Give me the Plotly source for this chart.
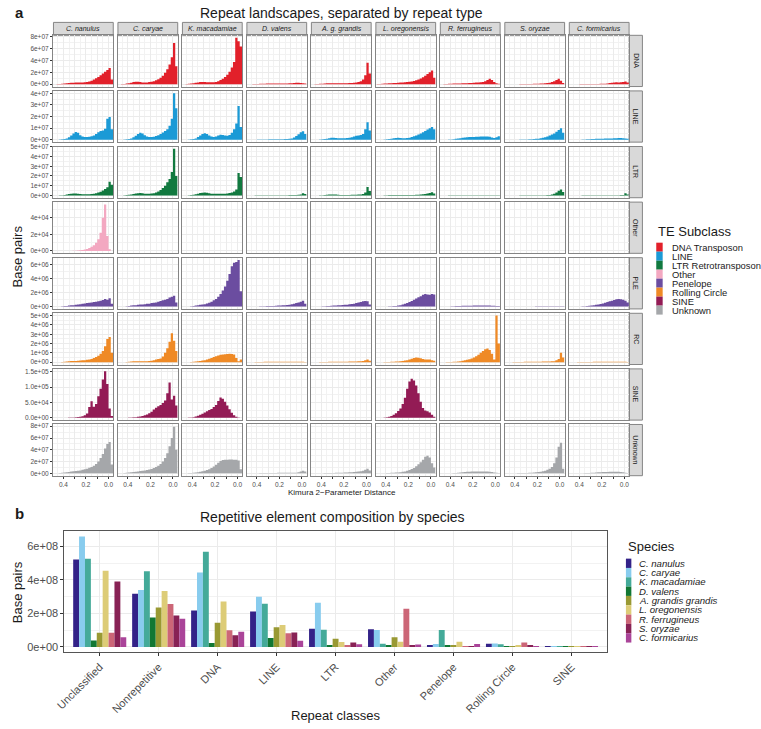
import plotly.graph_objects as go

W, H = 761, 729
FONT = "Liberation Sans, Arial, Helvetica, sans-serif"

# ---------------- data ----------------
SPECIES = ["C. nanulus", "C. caryae", "K. macadamiae", "D. valens", "A. g. grandis",
           "L. oregonensis", "R. ferrugineus", "S. oryzae", "C. formicarius"]
SPECIES_LEGEND = ["C. nanulus", "C. caryae", "K. macadamiae", "D. valens", "A. grandis grandis",
                  "L. oregonensis", "R. ferrugineus", "S. oryzae", "C. formicarius"]
SPECIES_COLORS = ["#332288", "#88CCEE", "#44AA99", "#117733", "#999933",
                  "#DDCC77", "#CC6677", "#882255", "#AA4499"]

REPEAT_TYPES = ["DNA", "LINE", "LTR", "Other", "PLE", "RC", "SINE", "Unknown"]
TE_SUBCLASS = ["DNA Transposon", "LINE", "LTR Retrotransposon", "Other", "Penelope",
               "Rolling Circle", "SINE", "Unknown"]
TE_COLORS = ["#E2202A", "#1B9AD6", "#11793F", "#F3A8C1", "#6B4DA0", "#EF8A26", "#931B55", "#A5A7AA"]

# Kimura distance bin centres (left to right on the reversed axis)
BIN_CENTERS = [0.47, 0.45, 0.43, 0.41, 0.39, 0.37, 0.35, 0.33, 0.31, 0.29, 0.27, 0.25, 0.23,
               0.21, 0.19, 0.17, 0.15, 0.13, 0.11, 0.09, 0.07, 0.05, 0.03, 0.01, -0.01, -0.03]
BIN_WIDTH = 0.02

# landscape values (bp, in units given by ROW_UNIT)
DNA_LAND = {
    "C. nanulus": [0, 0.3, 0.5, 0.8, 1.0, 1.6, 2.2, 2.5, 2.6, 2.8, 3.0, 3.0, 3.0, 3.2, 3.5, 4.5, 6, 8, 10, 12, 15, 18, 21, 24, 27, 8],
    "C. caryae": [0, 0.3, 0.5, 1, 1.5, 2.5, 3.5, 4, 4, 3.5, 3, 3, 3, 3.5, 4, 5, 6.5, 8.5, 11, 14, 19, 25, 33, 45, 69, 30],
    "K. macadamiae": [0, 0.3, 0.6, 1, 1.6, 2.3, 3, 3.5, 3.6, 3.5, 3.3, 3.2, 3.2, 3.4, 3.8, 5, 7, 9, 12, 16, 21, 28, 37, 78, 72, 63],
    "D. valens": [0, 0, 0.2, 0.3, 0.5, 0.7, 0.8, 0.9, 1, 1, 1, 1, 1, 1, 1, 1, 1.1, 1.2, 1.4, 1.6, 2, 2.4, 2.5, 2.2, 1.5, 1],
    "A. g. grandis": [0, 0.2, 0.4, 0.6, 0.9, 1.2, 1.4, 1.5, 1.6, 1.6, 1.6, 1.6, 1.6, 1.6, 1.7, 1.8, 2, 2.2, 2.5, 3, 3.5, 5, 8, 15, 36, 18],
    "L. oregonensis": [0.2, 0.5, 0.8, 1, 1.3, 1.6, 1.8, 2, 2.2, 2.5, 2.7, 3, 3.3, 3.6, 4, 4.6, 5.5, 6.5, 8, 9.5, 11.5, 14, 17, 20, 23, 11],
    "R. ferrugineus": [0.1, 0.3, 0.5, 0.7, 0.9, 1, 1.1, 1.2, 1.3, 1.5, 1.6, 1.8, 2, 2.2, 2.4, 2.7, 3, 3.3, 3.8, 4.8, 7, 9, 7, 3.5, 1.5, 0.8],
    "S. oryzae": [0, 0, 0, 0, 0.1, 0.1, 0.2, 0.2, 0.3, 0.3, 0.4, 0.5, 0.6, 0.7, 0.8, 1, 1.2, 1.5, 2, 2.6, 3.5, 5, 7, 9, 6, 2],
    "C. formicarius": [0, 0, 0.1, 0.1, 0.2, 0.2, 0.3, 0.3, 0.3, 0.4, 0.4, 0.5, 0.5, 0.6, 0.7, 0.9, 1.2, 2, 2.6, 3, 3.2, 2.8, 3.3, 3.5, 4.5, 3],
}
LINE_LAND = {
    "C. nanulus": [0, 0.1, 0.2, 0.4, 0.7, 1.2, 2.2, 3.8, 5.5, 6.6, 6, 4, 2.8, 2.4, 2.4, 2.6, 3, 3.8, 5, 6.5, 7.5, 8, 9.5, 18, 19.5, 9],
    "C. caryae": [0, 0.1, 0.2, 0.4, 0.7, 1.2, 2.2, 3.5, 5, 6, 5.5, 4, 2.8, 2.4, 2.4, 2.7, 3.2, 4, 5, 6.2, 7.5, 9, 12, 18, 40, 27],
    "K. macadamiae": [0, 0.1, 0.2, 0.4, 0.7, 1.2, 2.3, 3.8, 5, 5.7, 5, 3.8, 2.8, 2.4, 2.8, 3.6, 4.3, 4.2, 3.6, 3.5, 4.2, 6, 9, 14, 29, 11],
    "D. valens": [0, 0, 0.1, 0.1, 0.2, 0.2, 0.3, 0.3, 0.3, 0.4, 0.4, 0.4, 0.4, 0.5, 0.5, 0.5, 0.6, 0.7, 0.9, 1.2, 2, 3.2, 4.8, 6.5, 7.4, 5],
    "A. g. grandis": [0, 0, 0.1, 0.2, 0.4, 0.7, 1, 1.4, 1.7, 1.8, 1.6, 1.4, 1.3, 1.3, 1.3, 1.5, 1.8, 2.2, 2.8, 3.4, 3.8, 4.2, 5, 9, 15, 8],
    "L. oregonensis": [0, 0, 0.1, 0.2, 0.4, 0.7, 1, 1.3, 1.6, 1.7, 1.6, 1.4, 1.4, 1.5, 1.8, 2.3, 3, 3.8, 4.6, 5.5, 6.5, 7.6, 8.8, 10, 11, 9],
    "R. ferrugineus": [0, 0, 0.1, 0.2, 0.3, 0.5, 0.8, 1.1, 1.4, 1.7, 2, 2.2, 2.3, 2.4, 2.5, 2.6, 2.7, 2.8, 2.8, 2.9, 2.9, 2.6, 2, 1.6, 2.2, 3],
    "S. oryzae": [0, 0, 0, 0, 0.1, 0.1, 0.2, 0.2, 0.3, 0.3, 0.4, 0.5, 0.6, 0.8, 1, 1.3, 1.7, 2.2, 2.8, 3.6, 4.5, 5.5, 7, 8.5, 10, 6],
    "C. formicarius": [0, 0, 0, 0.1, 0.1, 0.2, 0.3, 0.4, 0.5, 0.6, 0.7, 0.8, 0.9, 1, 1, 1.1, 1.1, 1.2, 1.2, 1.3, 1.4, 1.5, 1.5, 1.4, 1.2, 0.8],
}
LTR_LAND = {
    "C. nanulus": [0, 0, 0.1, 0.2, 0.5, 0.9, 1.4, 1.8, 2, 2, 1.7, 1.4, 1.2, 1.2, 1.2, 1.3, 1.5, 1.8, 2.3, 2.9, 3.8, 5, 6.5, 8.5, 14, 11],
    "C. caryae": [0, 0, 0.1, 0.3, 0.6, 1, 1.5, 2, 2.3, 2.4, 2.1, 1.8, 1.7, 1.7, 1.9, 2.3, 3, 4, 5.5, 7.5, 10, 13.5, 17, 24, 48, 20],
    "K. macadamiae": [0, 0, 0.1, 0.3, 0.7, 1.2, 1.8, 2.4, 2.8, 3, 2.7, 2.2, 1.8, 1.6, 1.6, 1.6, 1.6, 1.7, 1.8, 2, 2.4, 3, 4, 6, 23, 19],
    "D. valens": [0, 0, 0, 0.05, 0.1, 0.1, 0.15, 0.2, 0.2, 0.2, 0.2, 0.2, 0.2, 0.2, 0.2, 0.2, 0.2, 0.25, 0.3, 0.35, 0.4, 0.5, 0.7, 1, 2.3, 1.5],
    "A. g. grandis": [0, 0, 0, 0.1, 0.2, 0.4, 0.6, 0.8, 0.9, 0.9, 0.8, 0.6, 0.5, 0.5, 0.5, 0.5, 0.5, 0.6, 0.6, 0.7, 0.8, 1, 1.5, 3, 8.7, 4.5],
    "L. oregonensis": [0, 0, 0, 0.1, 0.2, 0.3, 0.4, 0.5, 0.5, 0.5, 0.4, 0.4, 0.4, 0.4, 0.4, 0.4, 0.5, 0.6, 0.7, 0.9, 1.1, 1.4, 1.9, 2.6, 3.3, 2],
    "R. ferrugineus": [0, 0, 0, 0.05, 0.08, 0.1, 0.12, 0.14, 0.15, 0.15, 0.15, 0.15, 0.15, 0.15, 0.15, 0.15, 0.15, 0.15, 0.15, 0.15, 0.15, 0.15, 0.15, 0.15, 0.2, 0.15],
    "S. oryzae": [0, 0, 0, 0, 0, 0.02, 0.03, 0.04, 0.05, 0.05, 0.06, 0.07, 0.08, 0.1, 0.12, 0.15, 0.18, 0.22, 0.3, 0.5, 1, 1.8, 3, 4.8, 6, 3.5],
    "C. formicarius": [0, 0, 0, 0, 0.02, 0.03, 0.04, 0.05, 0.06, 0.07, 0.08, 0.09, 0.1, 0.1, 0.1, 0.1, 0.1, 0.1, 0.1, 0.12, 0.15, 0.2, 0.3, 0.5, 2.3, 1],
}
OTHER_LAND = {
    "C. nanulus": [0, 0, 0, 0, 0, 0, 0.1, 0.1, 0.2, 0.3, 0.5, 0.8, 1.2, 1.8, 2.5, 3.5, 5, 7, 10, 14, 22, 40, 56, 18, 2, 0],
}
PLE_LAND = {
    "C. nanulus": [0, 0, 0, 0.05, 0.1, 0.1, 0.15, 0.2, 0.2, 0.25, 0.3, 0.35, 0.4, 0.45, 0.5, 0.55, 0.6, 0.65, 0.7, 0.75, 0.85, 0.95, 1.1, 1.0, 1.2, 0.4],
    "C. caryae": [0, 0, 0, 0.05, 0.1, 0.15, 0.2, 0.2, 0.25, 0.3, 0.3, 0.35, 0.4, 0.4, 0.5, 0.55, 0.6, 0.7, 0.8, 0.9, 1, 1.1, 1.3, 1.4, 1.55, 0.6],
    "K. macadamiae": [0, 0, 0, 0.05, 0.1, 0.15, 0.2, 0.25, 0.3, 0.35, 0.45, 0.55, 0.7, 0.9, 1.1, 1.4, 1.8, 2.3, 2.9, 3.7, 4.7, 5.8, 6.3, 6.4, 6.7, 2.2],
    "D. valens": [0, 0, 0, 0, 0.02, 0.04, 0.05, 0.06, 0.07, 0.08, 0.09, 0.1, 0.12, 0.14, 0.16, 0.18, 0.2, 0.23, 0.27, 0.32, 0.4, 0.5, 0.6, 0.7, 0.85, 0.4],
    "A. g. grandis": [0, 0, 0, 0.02, 0.04, 0.06, 0.08, 0.1, 0.12, 0.14, 0.16, 0.18, 0.2, 0.22, 0.25, 0.28, 0.32, 0.36, 0.42, 0.5, 0.58, 0.66, 0.75, 0.8, 0.75, 0.3],
    "L. oregonensis": [0, 0, 0, 0, 0.02, 0.03, 0.05, 0.07, 0.1, 0.15, 0.2, 0.3, 0.4, 0.5, 0.65, 0.8, 1, 1.15, 1.35, 1.5, 1.7, 1.8, 1.75, 1.7, 1.8, 1.75],
    "R. ferrugineus": [0, 0, 0, 0.02, 0.04, 0.06, 0.08, 0.1, 0.1, 0.11, 0.12, 0.12, 0.13, 0.13, 0.14, 0.14, 0.14, 0.15, 0.15, 0.15, 0.15, 0.14, 0.13, 0.12, 0.1, 0.08],
    "S. oryzae": [0, 0, 0, 0, 0, 0, 0.01, 0.01, 0.01, 0.02, 0.02, 0.02, 0.02, 0.03, 0.03, 0.03, 0.03, 0.03, 0.04, 0.04, 0.04, 0.05, 0.05, 0.05, 0.05, 0.03],
    "C. formicarius": [0, 0, 0, 0, 0.02, 0.04, 0.06, 0.09, 0.12, 0.16, 0.2, 0.25, 0.3, 0.38, 0.46, 0.55, 0.65, 0.75, 0.85, 0.95, 1.05, 1.1, 1.05, 1.0, 0.85, 0.6],
}
RC_LAND = {
    "C. nanulus": [0, 0, 0, 0.02, 0.05, 0.08, 0.1, 0.12, 0.13, 0.14, 0.15, 0.17, 0.2, 0.22, 0.25, 0.3, 0.35, 0.45, 0.55, 0.7, 0.9, 1.2, 1.7, 2.5, 2.7, 1.0],
    "C. caryae": [0, 0, 0, 0.02, 0.05, 0.07, 0.09, 0.1, 0.1, 0.1, 0.1, 0.1, 0.11, 0.12, 0.15, 0.2, 0.3, 0.35, 0.4, 0.6, 1, 1.5, 2.2, 3.1, 2.3, 1.2],
    "K. macadamiae": [0, 0, 0, 0.02, 0.04, 0.07, 0.1, 0.14, 0.18, 0.22, 0.28, 0.36, 0.45, 0.55, 0.65, 0.72, 0.8, 0.83, 0.86, 0.88, 0.9, 0.88, 0.82, 0.45, 0.1, 0.3],
    "D. valens": [0, 0, 0, 0.01, 0.02, 0.03, 0.03, 0.04, 0.04, 0.04, 0.05, 0.05, 0.05, 0.05, 0.05, 0.05, 0.05, 0.05, 0.05, 0.05, 0.05, 0.05, 0.05, 0.05, 0.05, 0.03],
    "A. g. grandis": [0, 0, 0, 0.01, 0.02, 0.03, 0.03, 0.04, 0.04, 0.04, 0.05, 0.05, 0.05, 0.05, 0.05, 0.05, 0.06, 0.06, 0.07, 0.08, 0.09, 0.1, 0.12, 0.2, 0.3, 0.15],
    "L. oregonensis": [0, 0, 0, 0.01, 0.02, 0.03, 0.04, 0.05, 0.06, 0.08, 0.1, 0.13, 0.17, 0.22, 0.3, 0.38, 0.45, 0.5, 0.48, 0.42, 0.35, 0.3, 0.28, 0.3, 0.22, 0.15],
    "R. ferrugineus": [0, 0, 0.01, 0.02, 0.03, 0.04, 0.05, 0.08, 0.1, 0.15, 0.2, 0.25, 0.32, 0.4, 0.5, 0.65, 0.8, 1.0, 1.2, 1.4, 1.48, 1.3, 0.9, 0.3, 5.0, 2.0],
    "S. oryzae": [0, 0, 0, 0.01, 0.02, 0.03, 0.03, 0.03, 0.04, 0.04, 0.04, 0.04, 0.05, 0.05, 0.05, 0.05, 0.06, 0.06, 0.07, 0.08, 0.09, 0.1, 0.2, 0.35, 1.0, 0.5],
    "C. formicarius": [0, 0, 0, 0.01, 0.02, 0.02, 0.03, 0.03, 0.03, 0.03, 0.04, 0.04, 0.04, 0.04, 0.04, 0.04, 0.04, 0.04, 0.04, 0.04, 0.04, 0.04, 0.04, 0.04, 0.05, 0.03],
}
SINE_LAND = {
    "C. nanulus": [0, 0, 0, 0, 0, 0.2, 0.5, 0.8, 1.2, 1.8, 2.5, 3.5, 5, 8, 14, 35, 54, 36, 45, 70, 95, 125, 152, 110, 30, 6],
    "C. caryae": [0, 0, 0, 0, 0.5, 1, 1.5, 2, 3, 4, 6, 8, 11, 15, 20, 27, 33, 38, 42, 48, 56, 80, 115, 60, 72, 40],
    "K. macadamiae": [0, 0, 0.5, 1, 2, 4, 7, 10, 13, 17, 21, 25, 29, 35, 42, 55, 66, 62, 52, 40, 28, 16, 8, 3, 1, 0.3],
    "L. oregonensis": [0, 0, 0, 0.5, 1.5, 3, 6, 10, 15, 22, 30, 45, 65, 95, 118, 127, 122, 105, 80, 52, 32, 24, 21, 17, 10, 3],
}
UNKNOWN_LAND = {
    "C. nanulus": [0, 0.3, 0.6, 1, 1.5, 2, 2.5, 3, 3.5, 4, 4.5, 5, 6, 7, 8, 9.5, 11, 13, 16, 20, 26, 33, 42, 50, 53, 15],
    "C. caryae": [0, 0.3, 0.6, 1, 1.4, 1.8, 2.3, 2.8, 3.3, 3.8, 4.4, 5, 5.8, 6.6, 7.6, 9, 11, 13, 16, 20, 26, 34, 46, 60, 79, 40],
    "K. macadamiae": [0, 0.2, 0.4, 0.7, 1, 1.5, 2, 2.7, 3.5, 4.5, 5.5, 7, 9, 11.5, 14.5, 18, 21, 22.5, 23, 23, 23.5, 23.5, 23, 23, 22, 7],
    "D. valens": [0, 0, 0.1, 0.2, 0.3, 0.4, 0.5, 0.6, 0.7, 0.7, 0.8, 0.8, 0.8, 0.9, 0.9, 0.9, 1, 1, 1, 1, 1, 1.2, 1.8, 3, 4.5, 3],
    "A. g. grandis": [0, 0, 0.1, 0.2, 0.3, 0.4, 0.5, 0.6, 0.7, 0.8, 0.9, 1, 1.1, 1.2, 1.4, 1.6, 1.8, 2, 2.3, 2.6, 3, 3.5, 4.5, 6, 8, 5],
    "L. oregonensis": [0, 0, 0.2, 0.3, 0.5, 0.7, 0.9, 1.1, 1.3, 1.6, 2, 2.6, 3.3, 4.3, 5.6, 7.2, 9.2, 12, 15.5, 19, 23, 28, 30, 27, 17, 10],
    "R. ferrugineus": [0, 0, 0.1, 0.2, 0.3, 0.5, 0.8, 1.2, 1.6, 2, 2.4, 2.7, 2.9, 3, 3.1, 3.2, 3.3, 3.3, 3.3, 3.2, 3, 2.7, 2.2, 1.6, 1, 0.5],
    "S. oryzae": [0, 0, 0.1, 0.2, 0.3, 0.4, 0.5, 0.6, 0.7, 0.8, 1, 1.2, 1.5, 1.8, 2.2, 2.8, 3.5, 4.5, 6, 8, 11, 17, 27, 45, 52, 8],
    "C. formicarius": [0, 0, 0, 0.1, 0.2, 0.3, 0.4, 0.6, 0.8, 1, 1.2, 1.5, 1.8, 2, 2.2, 2.4, 2.5, 2.6, 2.7, 2.7, 2.7, 2.6, 2.4, 2, 1.2, 0.6],
}
ROW_DATA = [DNA_LAND, LINE_LAND, LTR_LAND, OTHER_LAND, PLE_LAND, RC_LAND, SINE_LAND, UNKNOWN_LAND]
ROW_UNIT = [1e6, 1e6, 1e6, 1e3, 1e6, 1e6, 1e3, 1e6]

ROW_TICKVALS = [
    [0, 2e7, 4e7, 6e7, 8e7],
    [0, 1e7, 2e7, 3e7, 4e7],
    [0, 1e7, 2e7, 3e7, 4e7, 5e7],
    [0, 2e4, 4e4],
    [0, 2e6, 4e6, 6e6],
    [0, 1e6, 2e6, 3e6, 4e6, 5e6],
    [0, 5e4, 1e5, 1.5e5],
    [0, 2e7, 4e7, 6e7, 8e7],
]
ROW_TICKTEXT = [
    ["0e+00", "2e+07", "4e+07", "6e+07", "8e+07"],
    ["0e+00", "1e+07", "2e+07", "3e+07", "4e+07"],
    ["0e+00", "1e+07", "2e+07", "3e+07", "4e+07", "5e+07"],
    ["0e+00", "2e+04", "4e+04"],
    ["0e+00", "2e+06", "4e+06", "6e+06"],
    ["0e+00", "1e+06", "2e+06", "3e+06", "4e+06", "5e+06"],
    ["0.0e+00", "5.0e+04", "1.0e+05", "1.5e+05"],
    ["0e+00", "2e+07", "4e+07", "6e+07", "8e+07"],
]
X_TICKVALS = [0.4, 0.3, 0.2, 0.1, 0.0]
X_TICKTEXT = ["0.4", "", "0.2", "", "0.0"]
X_MINOR = [0.45, 0.35, 0.25, 0.15, 0.05]

# composition (bp x 1e8) per species, across repeat classes
REPEAT_CLASSES = ["Unclassified", "Nonrepetitive", "DNA", "LINE", "LTR", "Other",
                  "Penelope", "Rolling Circle", "SINE"]
COMP_E8 = {
    "C. nanulus": [5.22, 3.17, 2.17, 2.11, 1.08, 1.05, 0.12, 0.19, 0.004],
    "C. caryae": [6.59, 3.40, 4.44, 2.99, 2.64, 1.01, 0.18, 0.21, 0.004],
    "K. macadamiae": [5.26, 4.52, 5.69, 2.58, 1.02, 0.19, 1.01, 0.16, 0.005],
    "D. valens": [0.39, 1.76, 0.23, 0.53, 0.12, 0.12, 0.06, 0.01, 0.002],
    "A. grandis grandis": [0.84, 2.35, 1.45, 1.17, 0.49, 0.57, 0.12, 0.01, 0.003],
    "L. oregonensis": [4.55, 3.34, 2.72, 1.31, 0.29, 0.31, 0.31, 0.06, 0.004],
    "R. ferrugineus": [0.84, 2.56, 1.00, 0.82, 0.08, 2.28, 0.01, 0.27, 0.003],
    "S. oryzae": [3.91, 1.88, 0.70, 0.86, 0.27, 0.08, 0.02, 0.05, 0.003],
    "C. formicarius": [0.57, 1.68, 0.90, 0.37, 0.16, 0.14, 0.17, 0.02, 0.002],
}
COMP_TICKVALS = [0, 2e8, 4e8, 6e8]
COMP_TICKTEXT = ["0e+00", "2e+08", "4e+08", "6e+08"]

# ---------------- geometry (pixels) ----------------
COL_X0, COL_STEP, PANEL_W = 45.0, 65.25, 60.5
ROW_Y0, ROW_STEP, PANEL_H = 32.5, 55.9, 51.5
B_X0, B_X1, B_Y0, B_Y1 = 56.0, 605.0, 531.0, 653.0


def xd(x0, x1):
    return [x0 / W, x1 / W]


def yd(y0, y1):
    return [1 - y1 / H, 1 - y0 / H]


def px(x):
    return x / W


def py(y):
    return 1 - y / H


fig = go.Figure()
layout = dict(
    width=W, height=H, autosize=False,
    margin=dict(l=0, r=0, t=0, b=0, pad=0),
    paper_bgcolor="white", plot_bgcolor="white",
    font=dict(family=FONT, color="#1A1A1A"),
    showlegend=False, barmode="group", bargap=0.1, bargroupgap=0.0,
)
shapes = []
annotations = []

BORDER = "#858585"
GRID = "#EBEBEB"
GRID_MINOR = "#F2F2F2"
TICKCOL = "#4D4D4D"

# histogram step outline: bin edges on the (reversed) distance axis
EDGES = [c + BIN_WIDTH / 2 for c in BIN_CENTERS] + [BIN_CENTERS[-1] - BIN_WIDTH / 2]

idx = 0
for r, rtype in enumerate(REPEAT_TYPES):
    data = ROW_DATA[r]
    unit = ROW_UNIT[r]
    rmax = max(max(v) for v in data.values()) * unit
    yrange = [-0.05 * rmax, 1.05 * rmax]
    tv = ROW_TICKVALS[r]
    minor_tv = [(tv[i] + tv[i + 1]) / 2 for i in range(len(tv) - 1)] + [tv[-1] + (tv[1] - tv[0]) / 2]
    y0 = ROW_Y0 + r * ROW_STEP
    y1 = y0 + PANEL_H
    for c, sp in enumerate(SPECIES):
        idx += 1
        sx = "" if idx == 1 else str(idx)
        x0 = COL_X0 + c * COL_STEP
        x1 = x0 + PANEL_W
        bottom = (r == len(REPEAT_TYPES) - 1)
        layout["xaxis" + sx] = dict(
            domain=xd(x0, x1), anchor="y" + sx, range=[0.488, -0.042],
            tickmode="array", tickvals=X_TICKVALS, ticktext=X_TICKTEXT,
            showticklabels=bottom, ticks="outside" if bottom else "",
            ticklen=2.5, tickwidth=0.8, tickcolor="#333333",
            tickfont=dict(size=6.5, color=TICKCOL, family=FONT),
            showgrid=True, gridcolor=GRID, gridwidth=0.7,
            minor=dict(tickmode="array", tickvals=X_MINOR, showgrid=True,
                       gridcolor=GRID_MINOR, gridwidth=0.5, ticks=""),
            showline=True, mirror=True, linecolor=BORDER, linewidth=1,
            zeroline=False, fixedrange=True,
        )
        layout["yaxis" + sx] = dict(
            domain=yd(y0, y1), anchor="x" + sx, range=yrange,
            tickmode="array", tickvals=tv, ticktext=ROW_TICKTEXT[r],
            showticklabels=(c == 0), ticks="outside" if c == 0 else "",
            ticklen=2.5, tickwidth=0.8, tickcolor="#333333",
            tickfont=dict(size=6.5, color=TICKCOL, family=FONT),
            showgrid=True, gridcolor=GRID, gridwidth=0.7,
            minor=dict(tickmode="array", tickvals=minor_tv, showgrid=True,
                       gridcolor=GRID_MINOR, gridwidth=0.5, ticks=""),
            showline=True, mirror=True, linecolor=BORDER, linewidth=1,
            zeroline=False, fixedrange=True,
        )
        if sp in data:
            vals = [v * unit for v in data[sp]]
            fig.add_trace(go.Scatter(
                x=EDGES, y=vals + [vals[-1]], mode="lines", line=dict(shape="hv", width=0, color=TE_COLORS[r]),
                fill="tozeroy", fillcolor=TE_COLORS[r],
                xaxis="x" + sx, yaxis="y" + sx, showlegend=False, hoverinfo="skip",
            ))
        else:
            # empty panel: register the subplot so its frame and grid are drawn
            fig.add_trace(go.Scatter(x=[], y=[], mode="lines", xaxis="x" + sx, yaxis="y" + sx,
                                     showlegend=False, hoverinfo="skip"))
    # right strip
    sx0 = COL_X0 + 8 * COL_STEP + PANEL_W
    shapes.append(dict(type="rect", xref="paper", yref="paper",
                       x0=px(sx0), x1=px(641.0),
                       y0=py(y1), y1=py(y0), fillcolor="#D9D9D9",
                       line=dict(color=BORDER, width=1), layer="below"))
    annotations.append(dict(x=px((sx0 + 641.0) / 2), y=py((y0 + y1) / 2),
                            xref="paper", yref="paper", text=rtype, showarrow=False, textangle=90,
                            font=dict(size=7, color="#1A1A1A", family=FONT),
                            xanchor="center", yanchor="middle"))

# top strips
for c, sp in enumerate(SPECIES):
    x0 = COL_X0 + c * COL_STEP
    x1 = x0 + PANEL_W
    shapes.append(dict(type="rect", xref="paper", yref="paper", x0=px(x0), x1=px(x1),
                       y0=py(ROW_Y0), y1=py(19.5), fillcolor="#D9D9D9",
                       line=dict(color=BORDER, width=1), layer="below"))
    annotations.append(dict(x=px((x0 + x1) / 2), y=py(26.0), xref="paper", yref="paper",
                            text="<i>" + sp + "</i>", showarrow=False,
                            font=dict(size=7, color="#1A1A1A", family=FONT),
                            xanchor="center", yanchor="middle"))

# ---------------- panel b ----------------
bi = idx + 1
bs = str(bi)
cmax = max(max(v) for v in COMP_E8.values()) * 1e8
for k, sp in enumerate(SPECIES_LEGEND):
    fig.add_trace(go.Bar(
        x=REPEAT_CLASSES, y=[v * 1e8 for v in COMP_E8[sp]], name=sp,
        marker=dict(color=SPECIES_COLORS[k], line=dict(width=0)),
        xaxis="x" + bs, yaxis="y" + bs, showlegend=False, hoverinfo="skip",
    ))
layout["xaxis" + bs] = dict(
    domain=xd(B_X0, B_X1), anchor="y" + bs, type="category",
    categoryorder="array", categoryarray=REPEAT_CLASSES, range=[-0.6, len(REPEAT_CLASSES) - 0.4],
    tickangle=-45, ticks="outside", ticklen=3, tickwidth=0.8, tickcolor="#333333",
    tickfont=dict(size=11, color=TICKCOL, family=FONT),
    showgrid=True, gridcolor=GRID, gridwidth=1,
    showline=True, mirror=True, linecolor="#555555", linewidth=1, zeroline=False, fixedrange=True,
)
layout["yaxis" + bs] = dict(
    domain=yd(B_Y0, B_Y1), anchor="x" + bs, range=[-0.05 * cmax, 1.05 * cmax],
    tickmode="array", tickvals=COMP_TICKVALS, ticktext=COMP_TICKTEXT,
    ticks="outside", ticklen=3, tickwidth=0.8, tickcolor="#333333",
    tickfont=dict(size=11, color=TICKCOL, family=FONT),
    showgrid=True, gridcolor=GRID, gridwidth=1,
    minor=dict(tickmode="array", tickvals=[1e8, 3e8, 5e8], showgrid=True,
               gridcolor=GRID_MINOR, gridwidth=0.6, ticks=""),
    showline=True, mirror=True, linecolor="#555555", linewidth=1, zeroline=False, fixedrange=True,
)

# ---------------- text ----------------
def txt(x, y, s, size, **kw):
    d = dict(x=px(x), y=py(y), xref="paper", yref="paper", text=s, showarrow=False,
             font=dict(size=size, color=kw.pop("color", "#1A1A1A"), family=FONT),
             xanchor=kw.pop("xanchor", "center"), yanchor=kw.pop("yanchor", "middle"))
    d.update(kw)
    annotations.append(d)


txt(4, 10, "<b>a</b>", 15, xanchor="left")
txt(336.5, 10.5, "Repeat landscapes, separated by repeat type", 14)
txt(8.5, 254.5, "Base pairs", 13, textangle=-90)
txt(336.5, 492.5, "Kimura 2\u2212Parameter Distance", 8)

txt(4, 513, "<b>b</b>", 15, xanchor="left")
txt(327, 517, "Repetitive element composition by species", 14)
txt(8.5, 592, "Base pairs", 13, textangle=-90)
txt(330, 716, "Repeat classes", 13)

# TE legend
txt(655, 230, "TE Subclass", 13, xanchor="left")
for k, lab in enumerate(TE_SUBCLASS):
    yy = 241.0 + 9.04 * k
    shapes.append(dict(type="rect", xref="paper", yref="paper", x0=px(655), x1=px(661.5),
                       y0=py(yy + 9.04), y1=py(yy), fillcolor=TE_COLORS[k], line=dict(width=0)))
    txt(668.5, yy + 4.6, lab, 9.4, xanchor="left")

# Species legend
txt(624, 546, "Species", 13, xanchor="left")
for k, lab in enumerate(SPECIES_LEGEND):
    yy = 558.7 + 9.375 * k
    shapes.append(dict(type="rect", xref="paper", yref="paper", x0=px(624.3), x1=px(629.8),
                       y0=py(yy + 9.375), y1=py(yy), fillcolor=SPECIES_COLORS[k], line=dict(width=0)))
    txt(636, yy + 4.7, "<i>" + lab + "</i>", 9.6, xanchor="left")

layout["shapes"] = shapes
layout["annotations"] = annotations
fig.update_layout(**layout)
fig.write_html("out.html")
